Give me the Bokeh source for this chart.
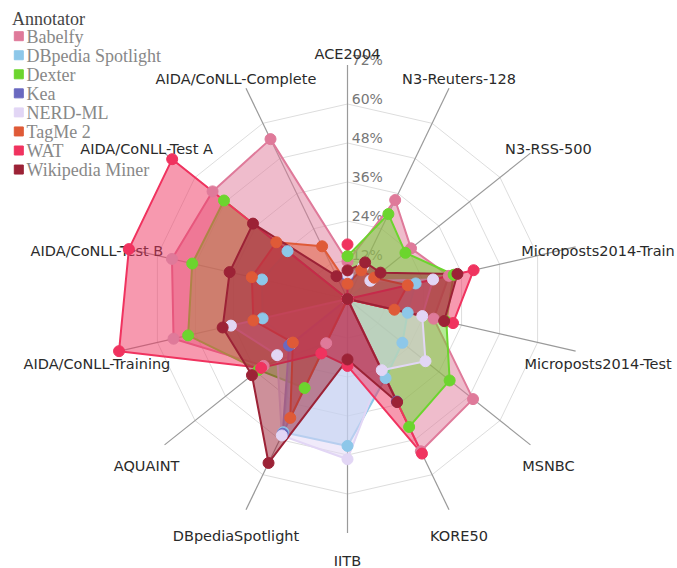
import numpy as np
from bokeh.plotting import figure
from bokeh.models import Range1d
from bokeh.core.properties import value
from bokeh.embed import file_html
from bokeh.resources import INLINE

datasets = ["ACE2004", "N3-Reuters-128", "N3-RSS-500", "Microposts2014-Train",
            "Microposts2014-Test", "MSNBC", "KORE50", "IITB", "DBpediaSpotlight",
            "AQUAINT", "AIDA/CoNLL-Training", "AIDA/CoNLL-Test B",
            "AIDA/CoNLL-Test A", "AIDA/CoNLL-Complete"]

annotators = ["Babelfy", "DBpedia Spotlight", "Dexter", "Kea", "NERD-ML",
              "TagMe 2", "WAT", "Wikipedia Miner"]

babelfy   = [11.5, 33.8, 25.0, 32.0, 27.2, 49.4, 52.0, 0.0, 15.1, 33.0, 54.9, 55.4, 53.1, 54.6]
dbpedia   = [0.0, 0.0, 9.5, 21.5, 19.0, 21.6, 27.0, 45.2, 45.5, 22.0, 26.8, 27.0, 23.6, 0.0]
dexter    = [13.2, 29.0, 22.8, 33.5, 31.2, 40.2, 43.7, 0.0, 30.4, 35.0, 50.3, 49.0, 48.6, 0.0]
kea       = [7.0, 0.0, 0.0, 0.0, 0.0, 0.0, 35.0, 0.0, 46.0, 23.0, 0.0, 0.0, 0.0, 0.0]
nerd_ml   = [7.6, 11.0, 9.0, 27.0, 23.6, 30.7, 24.3, 49.3, 46.6, 27.7, 36.8, 0.0, 0.0, 0.0]
tagme     = [4.7, 9.8, 10.5, 19.0, 14.8, 0.0, 0.0, 0.0, 40.6, 21.5, 29.7, 30.2, 28.0, 18.0]
wat       = [16.8, 0.0, 0.0, 39.8, 33.3, 0.0, 52.8, 20.6, 18.6, 34.0, 72.1, 69.0, 69.0, 0.0]
wikiminer = [8.8, 12.5, 13.0, 34.7, 30.5, 0.0, 35.2, 18.6, 56.0, 37.6, 39.4, 37.2, 37.2, 7.8]

series = [babelfy, dbpedia, dexter, kea, nerd_ml, tagme, wat, wikiminer]
colors = ["#df7a9a", "#8dc7e9", "#6cd52e", "#6a69c0", "#e2d6f5", "#df5a37", "#f0335f", "#9c2236"]

legend_title = "Annotator"
grid_values = [12, 24, 36, 48, 60]
tick_values = [12, 24, 36, 48, 60, 72]
tick_labels = ["12%", "24%", "36%", "48%", "60%", "72%"]
axis_max = 72

# layout (pixels)
W, H = 677, 568
CX, CY = 347.0, 298.5
S = 3.25  # pixels per percent


def dx(px):
    return (px - CX) / S


def dy_(py):
    return (CY - py) / S


p = figure(width=W, height=H, output_backend="svg", toolbar_location=None,
           x_range=Range1d(-CX / S, (W - CX) / S),
           y_range=Range1d(-(H - CY) / S, CY / S),
           x_axis_location=None, y_axis_location=None, min_border=0)
p.grid.visible = False
p.outline_line_color = None
p.background_fill_color = "white"

n = len(datasets)
theta = np.arange(n) * 2 * np.pi / n
sx, cy = np.sin(theta), np.cos(theta)

# grid rings
ring_xs = [list(np.append(v * sx, v * sx[0])) for v in grid_values]
ring_ys = [list(np.append(v * cy, v * cy[0])) for v in grid_values]
p.multi_line(ring_xs, ring_ys, line_color="#dddddd", line_width=1)

# radial axes
p.multi_line([[0, axis_max * a] for a in sx], [[0, axis_max * b] for b in cy],
             line_color="#9a9a9a", line_width=1.2)

# tick labels
tick_lift = 5.0 / S
p.text(x=[1.3] * len(tick_values), y=[t + tick_lift for t in tick_values], text=tick_labels,
       text_align="left", text_baseline="alphabetic",
       text_font=value("DejaVu Sans"), text_font_size="14px", text_color="#777777")

# axis labels
Rx, Ry, off = 257 / S, 253.5 / S, 8.5 / S
p.text(x=list(Rx * sx), y=list(Ry * cy - off), text=datasets,
       text_align="center", text_baseline="middle",
       text_font=value("DejaVu Sans"), text_font_size="14.5px", text_color="#2a2a2a")

# polygons
for vals, c in zip(series, colors):
    v = np.array(vals)
    p.patch(list(v * sx), list(v * cy), fill_color=c, fill_alpha=0.5,
            line_color=c, line_width=2, line_join="round")

# points
for vals, c in zip(series, colors):
    v = np.array(vals)
    p.scatter(list(v * sx), list(v * cy), size=11, marker="circle",
              fill_color=c, line_color=c, line_width=1)

# legend (top-left, laid out in pixels)
pitch = 19.05
base0 = 42.0
lift = 5.5
baselines = [base0 + i * pitch for i in range(len(annotators))]
p.text(x=[dx(11.5)], y=[dy_(24.0 - lift)], text=[legend_title],
       text_align="left", text_baseline="alphabetic",
       text_font=value("Liberation Serif"), text_font_size="18px", text_color="#444444")
p.scatter(x=[dx(18.3)] * len(annotators), y=[dy_(b - 6.3) for b in baselines],
          marker="square", size=9, fill_color=colors, line_color=colors)
p.text(x=[dx(26.0)] * len(annotators), y=[dy_(b - lift) for b in baselines], text=annotators,
       text_align="left", text_baseline="alphabetic",
       text_font=value("Liberation Serif"), text_font_size="18px", text_color="#888888")

open("out.html", "w").write(file_html(p, INLINE))
